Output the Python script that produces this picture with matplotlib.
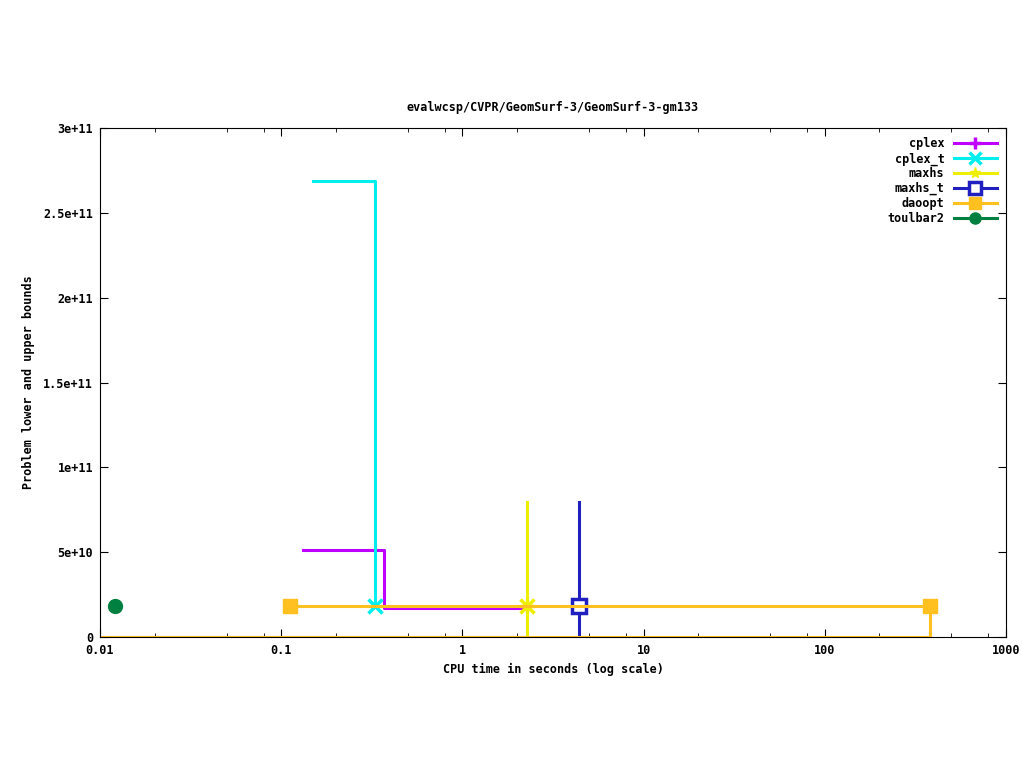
import numpy as np
import matplotlib
matplotlib.use("Agg")
import matplotlib.pyplot as plt
from matplotlib.ticker import FixedLocator, LogLocator, NullFormatter

# values (x: CPU seconds, y: bound)
cplex_ub_x = [0.132, 0.369, 2.25]
cplex_ub_y = [5.13e10, 1.71e10, 1.71e10]
cplex_lb_x = [0.01, 2.25]
cplex_lb_y = [0, 0]

cplex_t_ub_x = [0.150, 0.330]
cplex_t_ub_y = [2.69e11, 1.80e10]
cplex_t_pt = (0.330, 1.80e10)

maxhs_x = [2.27, 2.27]
maxhs_y = [0, 7.96e10]
maxhs_pt = (2.27, 1.80e10)

maxhs_t_x = [4.40, 4.40]
maxhs_t_y = [0, 7.96e10]
maxhs_t_pt = (4.40, 1.80e10)

daoopt_ub_x = [0.112, 380]
daoopt_ub_y = [1.81e10, 1.81e10]
daoopt_lb_x = [0.01, 380, 380]
daoopt_lb_y = [0, 0, 1.81e10]

toulbar2_pt = (0.0121, 1.81e10)

names = ["cplex", "cplex_t", "maxhs", "maxhs_t", "daoopt", "toulbar2"]
colors = ["#C000FF", "#00EEEE", "#EEEE00", "#2020C0", "#FFC020", "#008040"]

plt.rcParams["font.family"] = "DejaVu Sans Mono"
plt.rcParams["font.size"] = 8
plt.rcParams["font.weight"] = "bold"
plt.rcParams["axes.titleweight"] = "bold"
plt.rcParams["axes.labelweight"] = "bold"

fig = plt.figure(figsize=(10.24, 7.68), dpi=100)
ax = fig.add_axes([100 / 1024, 131 / 768, 906 / 1024, 509 / 768])

lw = 2.2
ms = 10

# cplex
c = colors[0]
ax.plot(cplex_lb_x, cplex_lb_y, color=c, lw=lw)
ax.plot(cplex_ub_x, cplex_ub_y, color=c, lw=lw, drawstyle="steps-post")
# cplex_t
c = colors[1]
ax.plot(cplex_t_ub_x, cplex_t_ub_y, color=c, lw=lw, drawstyle="steps-post")
ax.plot(*cplex_t_pt, marker="x", color=c, ms=ms, mew=2.5)
# maxhs
c = colors[2]
ax.plot(maxhs_x, maxhs_y, color=c, lw=lw)
ax.plot(*maxhs_pt, marker="x", color=c, ms=ms, mew=2.5)
ax.plot(*maxhs_pt, marker="+", color=c, ms=ms, mew=2.5)
# maxhs_t
c = colors[3]
ax.plot(maxhs_t_x, maxhs_t_y, color=c, lw=lw)
ax.plot(*maxhs_t_pt, marker="s", color=c, ms=ms, mew=2.5, mfc="white")
# daoopt
c = colors[4]
ax.plot(daoopt_lb_x, daoopt_lb_y, color=c, lw=lw)
ax.plot(daoopt_ub_x, daoopt_ub_y, color=c, lw=lw, marker="s", ms=ms)
# toulbar2
c = colors[5]
ax.plot(*toulbar2_pt, marker="o", color=c, ms=ms, mec=c)

# legend handles
mk = dict(cplex=dict(marker="+", mew=2.5), cplex_t=dict(marker="x", mew=2.5),
          maxhs=dict(marker="*", mew=1), maxhs_t=dict(marker="s", mfc="white", mew=2.5),
          daoopt=dict(marker="s"), toulbar2=dict(marker="o"))
handles = []
for n, c in zip(names, colors):
    h, = ax.plot([], [], color=c, lw=lw, ms=ms, label=n, **mk[n])
    handles.append(h)
ax.legend(handles=handles, loc="upper right", frameon=False, markerfirst=False,
          markerscale=0.8, handlelength=3.6, handletextpad=0.8, labelspacing=0.15,
          borderaxespad=0.4,
          prop=dict(family="DejaVu Sans Mono", weight="bold", size=8.5))

ax.set_xscale("log")
ax.set_xlim(0.01, 1000)
ax.set_ylim(0, 3e11)
ax.xaxis.set_major_locator(FixedLocator([0.01, 0.1, 1, 10, 100, 1000]))
ax.set_xticklabels(["0.01", "0.1", "1", "10", "100", "1000"])
ax.xaxis.set_minor_locator(LogLocator(base=10, subs=[2, 5, 8]))
ax.xaxis.set_minor_formatter(NullFormatter())
yt = [0, 5e10, 1e11, 1.5e11, 2e11, 2.5e11, 3e11]
ax.yaxis.set_major_locator(FixedLocator(yt))
ax.set_yticklabels(["0", "5e+10", "1e+11", "1.5e+11", "2e+11", "2.5e+11", "3e+11"])
ax.tick_params(which="both", direction="in", top=True, right=True)
ax.tick_params(which="major", length=6, labelsize=8.5, pad=5)
ax.tick_params(which="minor", length=3)

ax.set_title("evalwcsp/CVPR/GeomSurf-3/GeomSurf-3-gm133", fontsize=8.5, pad=12)
ax.set_xlabel("CPU time in seconds (log scale)", fontsize=8.5, labelpad=4)
ax.set_ylabel("Problem lower and upper bounds", fontsize=8.5, labelpad=6)

fig.savefig("out.png", dpi=100)
